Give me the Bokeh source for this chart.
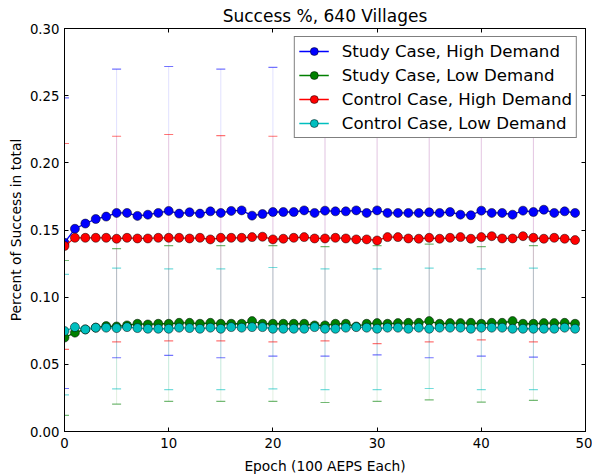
from bokeh.plotting import figure
from bokeh.models import (Legend, LegendItem, LinearAxis, FixedTicker, Range1d,
                          NumeralTickFormatter, ColumnDataSource, CustomLabelingPolicy)
from bokeh.embed import file_html
from bokeh.resources import INLINE

# ---------------- data ----------------
epochs = list(range(50))
err_epochs = [0, 5, 10, 15, 20, 25, 30, 35, 40, 45]

labels = ["Study Case, High Demand", "Study Case, Low Demand",
          "Control Case, High Demand", "Control Case, Low Demand"]
colors = ["#0000ff", "#008000", "#ff0000", "#00bfbf"]

study_high = [0.1405, 0.1509, 0.1548, 0.1582, 0.1600, 0.1627, 0.1627, 0.1605, 0.1614, 0.1627,
              0.1642, 0.1622, 0.1632, 0.1622, 0.1639, 0.1627, 0.1642, 0.1646, 0.1607, 0.1619,
              0.1634, 0.1634, 0.1634, 0.1646, 0.1627, 0.1644, 0.1639, 0.1639, 0.1646, 0.1627,
              0.1646, 0.1627, 0.1627, 0.1627, 0.1627, 0.1632, 0.1627, 0.1634, 0.1614, 0.1610,
              0.1644, 0.1627, 0.1627, 0.1614, 0.1644, 0.1634, 0.1651, 0.1627, 0.1639, 0.1627]
study_low = [0.0699, 0.0736, 0.0760, 0.0773, 0.0785, 0.0782, 0.0790, 0.0802, 0.0797, 0.0802,
             0.0802, 0.0809, 0.0809, 0.0802, 0.0809, 0.0802, 0.0802, 0.0802, 0.0822, 0.0802,
             0.0802, 0.0802, 0.0802, 0.0802, 0.0790, 0.0790, 0.0802, 0.0802, 0.0782, 0.0802,
             0.0807, 0.0802, 0.0807, 0.0809, 0.0809, 0.0822, 0.0802, 0.0807, 0.0807, 0.0809,
             0.0802, 0.0809, 0.0809, 0.0822, 0.0802, 0.0802, 0.0807, 0.0807, 0.0809, 0.0802]
control_high = [0.1381, 0.1442, 0.1442, 0.1442, 0.1442, 0.1435, 0.1442, 0.1437, 0.1437, 0.1442,
                0.1442, 0.1442, 0.1437, 0.1442, 0.1430, 0.1442, 0.1442, 0.1442, 0.1447, 0.1450,
                0.1430, 0.1435, 0.1442, 0.1447, 0.1437, 0.1437, 0.1442, 0.1437, 0.1430, 0.1430,
                0.1422, 0.1447, 0.1447, 0.1437, 0.1435, 0.1442, 0.1435, 0.1442, 0.1447, 0.1435,
                0.1447, 0.1454, 0.1437, 0.1437, 0.1454, 0.1442, 0.1435, 0.1442, 0.1435, 0.1425]
control_low = [0.0748, 0.0777, 0.0760, 0.0773, 0.0773, 0.0770, 0.0777, 0.0770, 0.0765, 0.0765,
               0.0765, 0.0773, 0.0770, 0.0765, 0.0773, 0.0765, 0.0777, 0.0773, 0.0777, 0.0777,
               0.0765, 0.0765, 0.0765, 0.0765, 0.0777, 0.0765, 0.0765, 0.0773, 0.0777, 0.0773,
               0.0765, 0.0773, 0.0773, 0.0765, 0.0773, 0.0765, 0.0773, 0.0773, 0.0773, 0.0765,
               0.0773, 0.0773, 0.0773, 0.0765, 0.0765, 0.0765, 0.0765, 0.0765, 0.0773, 0.0765]

study_high_upper = [0.2484, 0.2698, 0.2717, 0.2698, 0.2710, 0.2705, 0.2705, 0.2705, 0.2705, 0.2705]
study_high_lower = [0.0320, 0.0549, 0.0566, 0.0549, 0.0561, 0.0561, 0.0571, 0.0549, 0.0561, 0.0553]
study_low_upper = [0.1273, 0.1361, 0.1383, 0.1383, 0.1383, 0.1376, 0.1383, 0.1395, 0.1376, 0.1383]
study_low_lower = [0.0120, 0.0204, 0.0224, 0.0224, 0.0224, 0.0216, 0.0224, 0.0236, 0.0219, 0.0231]
control_high_upper = [0.2144, 0.2198, 0.2211, 0.2203, 0.2198, 0.2215, 0.2193, 0.2215, 0.2215, 0.2215]
control_high_lower = [0.0612, 0.0667, 0.0674, 0.0674, 0.0667, 0.0674, 0.0654, 0.0667, 0.0682, 0.0667]
control_low_upper = [0.1169, 0.1216, 0.1211, 0.1211, 0.1221, 0.1211, 0.1211, 0.1216, 0.1211, 0.1216]
control_low_lower = [0.0273, 0.0317, 0.0312, 0.0312, 0.0317, 0.0312, 0.0312, 0.0320, 0.0312, 0.0312]

x_ticks = [0, 10, 20, 30, 40, 50]
y_ticks = [0.00, 0.05, 0.10, 0.15, 0.20, 0.25, 0.30]

series = [study_high, study_low, control_high, control_low]
uppers = [study_high_upper, study_low_upper, control_high_upper, control_low_upper]
lowers = [study_high_lower, study_low_lower, control_high_lower, control_low_lower]

FONT = "DejaVu Sans"

# ---------------- figure ----------------
p = figure(width=592, height=476, output_backend="svg", toolbar_location=None,
           x_range=Range1d(0, 50), y_range=Range1d(0, 0.30),
           min_border_left=64, min_border_right=7, min_border_top=28, min_border_bottom=43,
           title="Success %, 640 Villages")
p.background_fill_color = "white"
p.border_fill_color = "white"
p.grid.visible = False
p.outline_line_color = "black"
p.outline_line_width = 1

p.title.text_font = FONT
p.title.text_font_size = "17px"
p.title.text_font_style = "normal"
p.title.align = "center"
p.title.text_color = "black"
p.title.standoff = 5

for ax in (p.xaxis[0], p.yaxis[0]):
    ax.major_tick_in = 4
    ax.major_tick_out = 0
    ax.minor_tick_line_color = None
    ax.axis_line_color = "black"
    ax.major_tick_line_color = "black"
    ax.major_label_text_font = FONT
    ax.major_label_text_font_size = "13.3px"
    ax.major_label_text_color = "black"
    ax.axis_label_text_font = FONT
    ax.axis_label_text_font_size = "13.8px"
    ax.axis_label_text_font_style = "normal"
    ax.axis_label_text_color = "black"

p.xaxis.ticker = FixedTicker(ticks=x_ticks)
p.yaxis.ticker = FixedTicker(ticks=y_ticks)
p.yaxis.formatter = NumeralTickFormatter(format="0.00")
p.xaxis.axis_label = "Epoch (100 AEPS Each)"
p.yaxis.axis_label = "Percent of Success in total"
p.xaxis.major_label_standoff = 6
p.yaxis.major_label_standoff = 5
p.xaxis.axis_label_standoff = 7
p.yaxis.axis_label_standoff = 3

# mirrored ticks on top / right (no labels drawn)
no_labels = CustomLabelingPolicy(code="return []")
for side, tks in (("above", x_ticks), ("right", y_ticks)):
    a = LinearAxis(ticker=FixedTicker(ticks=tks), major_tick_in=4, major_tick_out=0,
                   minor_tick_line_color=None, major_label_text_font_size="0px",
                   major_label_standoff=0, axis_line_color="black",
                   major_tick_line_color="black", major_label_policy=no_labels)
    p.add_layout(a, side)

# error bars (drawn beneath the lines)
for col, up, lo in zip(colors, uppers, lowers):
    src = ColumnDataSource(dict(x=err_epochs, up=up, lo=lo))
    p.segment(x0="x", y0="lo", x1="x", y1="up", source=src,
              line_color=col, line_alpha=0.12, line_width=1)
    p.scatter(x="x", y="up", source=src, marker="dash", size=9,
              line_color=col, line_alpha=0.55, line_width=1.2)
    p.scatter(x="x", y="lo", source=src, marker="dash", size=9,
              line_color=col, line_alpha=0.55, line_width=1.2)

items = []
for lab, col, vals in zip(labels, colors, series):
    src = ColumnDataSource(dict(x=epochs, y=vals))
    ln = p.line(x="x", y="y", source=src, line_color=col, line_width=1.3)
    sc = p.scatter(x="x", y="y", source=src, marker="circle", size=9,
                   fill_color=col, line_color="black", line_width=0.5)
    items.append(LegendItem(label=lab, renderers=[ln, sc]))

legend = Legend(items=items, location="top_right")
legend.label_text_font = FONT
legend.label_text_font_size = "16.6px"
legend.label_text_color = "black"
legend.border_line_color = "black"
legend.border_line_width = 1.2
legend.background_fill_color = "white"
legend.background_fill_alpha = 1.0
legend.padding = 4
legend.spacing = 4
legend.glyph_height = 20
legend.label_height = 20
legend.glyph_width = 30
legend.label_standoff = 13
legend.margin = 8
p.add_layout(legend)

open("out.html", "w").write(file_html(p, INLINE))
